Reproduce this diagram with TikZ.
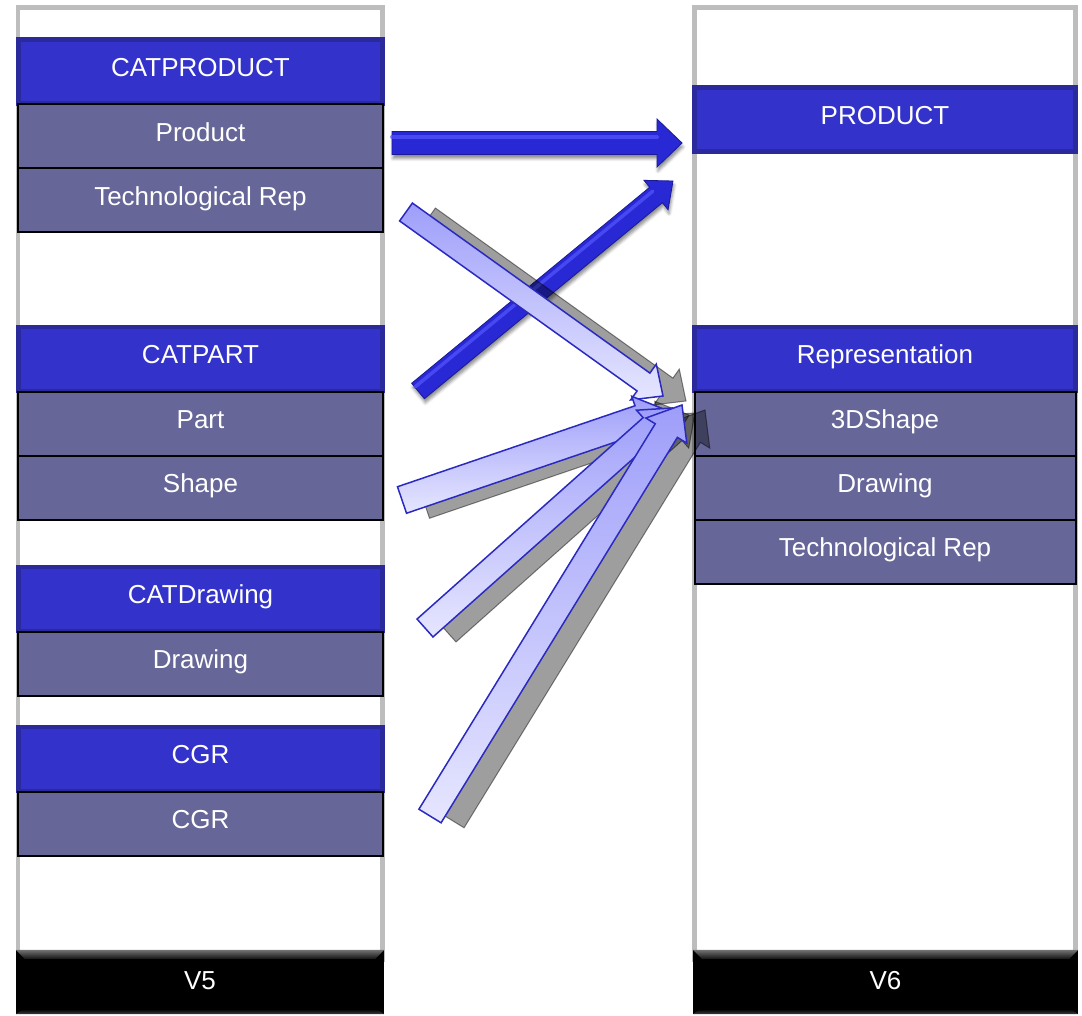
\documentclass[tikz,border=0pt]{standalone}
\usepackage{fontspec}
\setmainfont{Liberation Sans}
\usetikzlibrary{calc,shadows.blur}
\definecolor{hdrfill}{HTML}{3333CC}
\definecolor{hdrline}{HTML}{2A2A9C}
\definecolor{itemfill}{HTML}{666699}
\definecolor{framegray}{HTML}{BDBDBD}
\definecolor{bluearrow}{HTML}{2828D4}
\definecolor{bluearrowdark}{HTML}{1A1A96}
\definecolor{bluehigh}{HTML}{5656FF}
\definecolor{lightline}{HTML}{2A2AC0}
\definecolor{lighttop}{HTML}{9E9EFA}
\definecolor{lightbot}{HTML}{E6E6FF}
% name, tail, tip, shaft half width, head half width, head length
\newcommand\mkarrow[6]{%
  \coordinate (#1-t) at (#3);
  \coordinate (#1-c) at ($(#3)!#6!(#2)$);
  \coordinate (#1-p1) at ($(#2)!#4!90:(#3)$);
  \coordinate (#1-p2) at ($(#2)!#4!-90:(#3)$);
  \coordinate (#1-q1) at ($(#1-c)!#4!90:(#3)$);
  \coordinate (#1-q2) at ($(#1-c)!#4!-90:(#3)$);
  \coordinate (#1-h1) at ($(#1-c)!#5!90:(#3)$);
  \coordinate (#1-h2) at ($(#1-c)!#5!-90:(#3)$);
}
\newcommand\drawarrow[2]{%
  \path[#2] (#1-p1) -- (#1-q1) -- (#1-h1) -- (#1-t) -- (#1-h2) -- (#1-q2) -- (#1-p2) -- cycle;
}
\begin{document}
\begin{tikzpicture}[x=1pt,y=-1pt,
  txt/.style={text=white, inner sep=0pt, font=\fontsize{26}{30}\selectfont,
    text height=11.6pt, text depth=2pt},
  hdr/.style={txt, draw=hdrline, line width=4.5pt, fill=hdrfill, minimum height=64pt},
  item/.style={txt, draw=black, line width=2pt, fill=itemfill, minimum height=64pt},
  lcol/.style={minimum width=364pt},
  rcol/.style={minimum width=381pt},
  frame/.style={draw=framegray, line width=4.5pt},
  vbar/.style={txt, fill=black, minimum height=64pt},
  bluearr/.style={fill=bluearrow, draw=bluearrowdark, line width=0.8pt,
    blur shadow={shadow xshift=1pt, shadow yshift=-4pt, shadow blur radius=3pt, shadow opacity=45}},
  lightarr/.style={draw=lightline, line width=1.5pt, top color=lighttop, bottom color=lightbot},
  shadowarr/.style={fill=black, fill opacity=0.38, draw=black, draw opacity=0.45, line width=1pt,
    transform canvas={xshift=23pt, yshift=-5pt}},
  highlight/.style={draw=bluehigh, line width=4pt, opacity=0.7, line cap=round}
]
\useasboundingbox (0,0) rectangle (1082,1016);

% column frames
\draw[frame] (18,7.5) rectangle (382.5,960);
\draw[frame] (694.5,7.5) rectangle (1075.5,960);

% left column (V5)
\node[hdr, lcol] (catproduct) at (200.5,71.5) {CATPRODUCT};
\node[item, minimum width=365pt] (product) at (200.5,136.5) {Product};
\node[item, minimum width=365pt] (techrep5) at (200.5,200.5) {Technological Rep};
\node[hdr, lcol] (catpart) at (200.5,359) {CATPART};
\node[item, minimum width=365pt] (part) at (200.5,424) {Part};
\node[item, minimum width=365pt] (shape) at (200.5,488) {Shape};
\node[hdr, lcol] (catdrawing) at (200.5,599) {CATDrawing};
\node[item, minimum width=365pt] (drawing5) at (200.5,664) {Drawing};
\node[hdr, lcol] (cgrhdr) at (200.5,759) {CGR};
\node[item, minimum width=365pt] (cgr) at (200.5,824) {CGR};

% right column (V6)
\node[hdr, rcol] (productv6) at (885,119.5) {PRODUCT};
\node[hdr, rcol] (representation) at (885,359) {Representation};
\node[item, minimum width=381pt] (shape3d) at (885,424) {3DShape};
\node[item, minimum width=381pt] (drawing6) at (885,488) {Drawing};
\node[item, minimum width=381pt] (techrep6) at (885,552) {Technological Rep};

% version bars
\node[vbar, minimum width=368pt] (v5) at (200,982) {};
\node[vbar, minimum width=385pt] (v6) at (885.5,982) {};
\foreach \b in {v5,v6}{
  \shade[top color=black!55, bottom color=black!92]
    (\b.north west) -- (\b.north east) -- ($(\b.north east)+(-9,9)$) -- ($(\b.north west)+(9,9)$) -- cycle;
  \shade[top color=black!95, bottom color=black!75]
    (\b.south west) -- (\b.south east) -- ($(\b.south east)+(-6,-4)$) -- ($(\b.south west)+(6,-4)$) -- cycle;
}
\node[txt] (v5t) at ($(v5)+(0,2.5)$) {V5};
\node[txt] (v6t) at ($(v6)+(0,2.5)$) {V6};

% solid blue arrows
\coordinate (a1s) at (392,143);
\coordinate (a1e) at (682,143);
\mkarrow{a1}{a1s}{a1e}{11.5pt}{24pt}{25pt}
\drawarrow{a1}{bluearr}
\draw[highlight] ($(a1s)!6pt!90:(a1e)$) -- ($(a1-c)!6pt!-90:(a1s)$);

\coordinate (a2s) at (418,391);
\coordinate (a2e) at (673,181);
\mkarrow{a2}{a2s}{a2e}{10pt}{19pt}{22pt}
\drawarrow{a2}{bluearr}
\draw[highlight, line width=3.5pt] ($(a2s)!5pt!90:(a2e)$) -- ($(a2-c)!5pt!-90:(a2s)$);

% light arrows with shadows
\coordinate (b1s) at (406,212);
\coordinate (b1e) at (663,396);
\mkarrow{b1}{b1s}{b1e}{11pt}{22pt}{24pt}
\coordinate (b2s) at (402,500);
\coordinate (b2e) at (666,410);
\mkarrow{b2}{b2s}{b2e}{14pt}{24pt}{28pt}
\coordinate (b3s) at (425,628);
\coordinate (b3e) at (672,408);
\mkarrow{b3}{b3s}{b3e}{12pt}{22pt}{28pt}
\coordinate (b4s) at (430,816);
\coordinate (b4e) at (682,405);
\mkarrow{b4}{b4s}{b4e}{13pt}{24pt}{30pt}

\drawarrow{b1}{shadowarr}
\drawarrow{b1}{lightarr}
\drawarrow{b2}{shadowarr}
\drawarrow{b2}{lightarr}
\drawarrow{b3}{shadowarr}
\drawarrow{b3}{lightarr}
\drawarrow{b4}{shadowarr}
\drawarrow{b4}{lightarr}
\end{tikzpicture}
\end{document}
